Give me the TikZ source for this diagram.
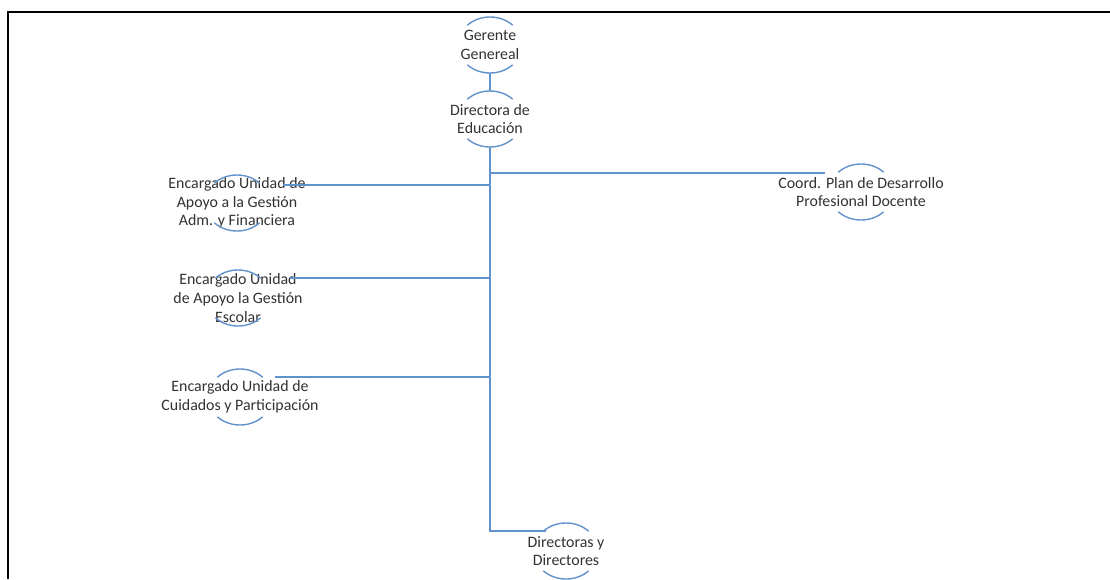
\documentclass[tikz,border=0pt]{standalone}
\usepackage{fontspec}
\setmainfont{Carlito}
\usetikzlibrary{calc}
\definecolor{azul}{RGB}{98,146,204}
\definecolor{texto}{RGB}{50,50,50}
\tikzset{
  linea/.style={azul, line width=1pt},
  anillo/.style={circle, minimum size=1.4cm, inner sep=0pt},
  etiqueta/.style={align=center, text=texto, font=\fontsize{11.3}{13.3}\selectfont, inner sep=0pt},
}
% arcos de arriba y de abajo de cada anillo
\newcommand{\arcos}[1]{%
  \draw[linea] ([shift={(45:0.8cm and 0.7cm)}]#1.center) arc[start angle=45,end angle=135,x radius=0.8cm,y radius=0.7cm];
  \draw[linea] ([shift={(225:0.8cm and 0.7cm)}]#1.center) arc[start angle=225,end angle=315,x radius=0.8cm,y radius=0.7cm];}

\begin{document}
\begin{tikzpicture}[x=0.025cm,y=-0.025cm]
  \useasboundingbox (0,0) rectangle (1110,579);
  \draw[line width=1.5pt] (8,579) -- (8,12) -- (1110,12);

  \node[anillo,label={[etiqueta]center:{Gerente\\Genereal}}] (ger) at (490,45) {};
  \node[anillo,label={[etiqueta]center:{Directora de\\Educación}}] (dir) at (490,119) {};
  \node[anillo,label={[etiqueta]center:{Encargado Unidad de\\Apoyo a la Gestión\\Adm. y Financiera}}] (enc1) at (237,203) {};
  \node[anillo,label={[etiqueta]center:{Encargado Unidad\\de Apoyo la Gestión\\Escolar}}] (enc2) at (238,298) {};
  \node[anillo,label={[etiqueta]center:{Encargado Unidad de\\Cuidados y Participación}}] (enc3) at (240,397) {};
  \node[anillo,label={[etiqueta]center:{Coord. Plan de Desarrollo\\Profesional Docente}}] (coord) at (861,192) {};
  \node[anillo,label={[etiqueta]center:{Directoras y\\Directores}}] (dirs) at (566,551) {};

  \foreach \n in {ger,dir,enc1,enc2,enc3,coord,dirs} {\arcos{\n}}

  \draw[linea] (ger) -- (dir);
  \draw[linea] (dir) |- (dirs.135);

  % ramas al tronco
  \coordinate (c1) at ($(enc1)+(46,-18)$);
  \coordinate (c2) at ($(enc2)+(52,-20)$);
  \coordinate (c3) at ($(enc3)+(35,-20)$);
  \coordinate (c4) at ($(coord)+(-36,-19)$);
  \foreach \c in {c1,c2,c3,c4} \draw[linea] (\c) -- (\c -| dir);
\end{tikzpicture}
\end{document}
